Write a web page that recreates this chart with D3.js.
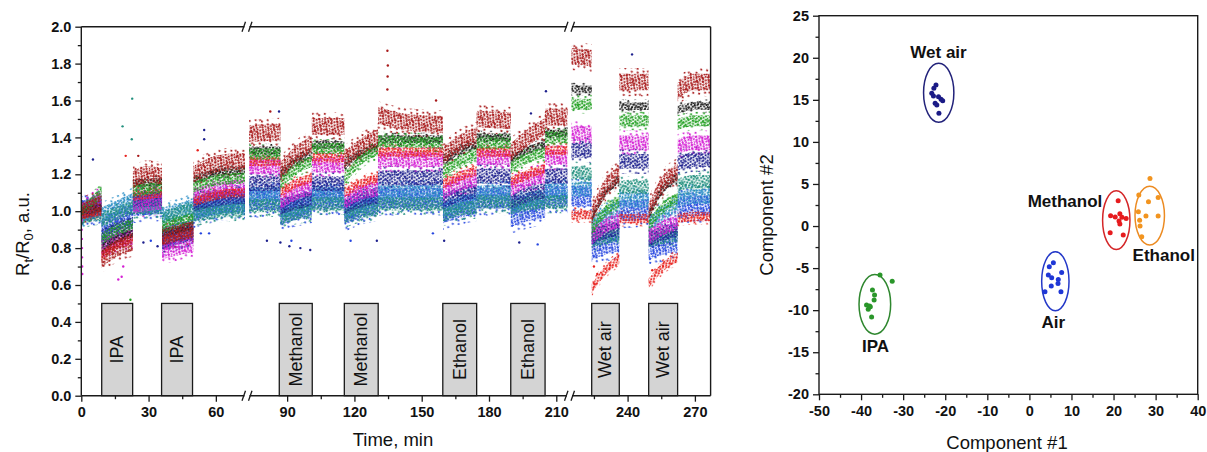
<!DOCTYPE html>
<html>
<head>
<meta charset="utf-8">
<script src="https://cdn.jsdelivr.net/npm/d3@7"></script>
<style>
  body { margin: 0; background: #fff; }
  svg { display: block; font-family: "Liberation Sans", Arial, sans-serif; }
</style>
</head>
<body>
<svg id="chart" width="1207" height="452"></svg>
<script>
// ---------------- Left panel: sensor array response ----------------
// Phase boundaries (min): air / exposure alternation, axis broken at 73 and 215
const phaseBounds = [0, 9, 23, 36, 50, 73, 87, 101, 115.5, 130.5, 159.5, 174.5, 189.7, 205, 215, 224, 236.3, 249.4, 262.3, 277];

// R_t/R_0 level of each sensor in every phase (values evenly spaced across the phase)
const sensorBlue = [[1.00,1.03],[0.90,0.95,0.98],[1.03,1.04],[0.85,0.88,0.90],[1.00,1.04,1.05],[1.06,1.06],[0.98,1.01,1.03],[1.07,1.07],[0.98,1.02,1.04],[1.07,1.07],[0.99,1.02,1.04],[1.07,1.07],[0.97,1.00,1.02],[1.08,1.08],[1.08,1.08],[0.79,0.82,0.84],[1.00,1.01],[0.79,0.82,0.84],[1.02,1.03,1.03]];
const sensorCyan = [[0.98,1.01],[0.98,1.02,1.06],[1.04,1.04],[0.98,1.00,1.03],[1.00,1.02,1.03],[1.09,1.09],[1.00,1.02,1.04],[1.09,1.09],[1.00,1.03,1.05],[1.10,1.10],[1.01,1.04,1.06],[1.10,1.10],[1.03,1.06,1.08],[1.11,1.11],[1.12,1.12],[0.92,0.98,1.02],[1.06,1.06],[0.93,0.99,1.03],[1.06,1.08,1.08]];
const sensorTeal = [[0.97,0.99],[0.95,0.99,1.02],[1.02,1.02],[0.96,0.99,1.01],[0.98,1.00,1.01],[1.03,1.03],[0.96,0.99,1.00],[1.04,1.04],[0.97,1.00,1.01],[1.04,1.04],[0.98,1.01,1.02],[1.05,1.05],[1.02,1.04,1.05],[1.05,1.05],[1.21,1.20],[0.84,0.86,0.87],[1.13,1.13],[0.84,0.86,0.87],[1.14,1.16,1.16]];
const sensorNavy = [[1.00,1.02],[0.86,0.90,0.93],[1.06,1.07],[0.83,0.86,0.88],[1.04,1.07,1.08],[1.15,1.15],[1.02,1.05,1.07],[1.15,1.15],[1.02,1.06,1.08],[1.18,1.18],[1.05,1.09,1.11],[1.19,1.19],[1.05,1.09,1.11],[1.19,1.19],[1.33,1.33],[0.86,0.89,0.91],[1.27,1.27],[0.85,0.88,0.90],[1.26,1.28,1.28]];
const sensorMagenta = [[1.00,1.07],[0.80,0.84,0.86],[1.03,1.05],[0.78,0.80,0.82],[1.08,1.12,1.13],[1.24,1.24],[1.05,1.10,1.13],[1.25,1.25],[1.05,1.10,1.12],[1.28,1.28],[1.10,1.15,1.17],[1.29,1.29],[1.12,1.17,1.19],[1.29,1.29],[1.42,1.42],[0.86,0.92,0.95],[1.37,1.37],[0.86,0.91,0.94],[1.35,1.37,1.37]];
const sensorRed = [[0.98,1.00],[0.76,0.82,0.86],[1.08,1.10],[0.84,0.87,0.89],[1.05,1.09,1.10],[1.27,1.27],[1.10,1.15,1.18],[1.29,1.29],[1.10,1.15,1.18],[1.32,1.32],[1.15,1.19,1.22],[1.32,1.32],[1.16,1.20,1.23],[1.33,1.33],[0.98,0.98],[0.58,0.68,0.74],[0.96,0.96],[0.61,0.70,0.75],[0.96,0.97,0.97]];
const sensorBlack = [[1.00,1.02],[0.80,0.85,0.88],[1.15,1.16],[0.88,0.90,0.92],[1.17,1.21,1.22],[1.33,1.33],[1.20,1.27,1.31],[1.36,1.36],[1.25,1.31,1.35],[1.39,1.39],[1.27,1.33,1.36],[1.40,1.40],[1.28,1.33,1.36],[1.42,1.42],[1.66,1.66],[0.96,1.10,1.17],[1.57,1.57],[0.98,1.12,1.18],[1.55,1.57,1.57]];
const sensorGreen = [[1.00,1.10],[0.85,0.90,0.93],[1.11,1.13],[0.91,0.94,0.96],[1.13,1.17,1.18],[1.31,1.31],[1.15,1.23,1.27],[1.34,1.34],[1.17,1.28,1.33],[1.38,1.37],[1.21,1.27,1.31],[1.37,1.37],[1.24,1.29,1.32],[1.40,1.40],[1.58,1.58],[0.90,1.00,1.05],[1.49,1.49],[0.92,1.02,1.07],[1.47,1.49,1.49]];
const sensorDarkRed = [[1.00,1.04],[0.74,0.80,0.83],[1.17,1.20,1.19],[0.86,0.88,0.90],[1.20,1.26,1.27],[1.42,1.43],[1.22,1.31,1.36],[1.46,1.46],[1.28,1.35,1.40],[1.52,1.48,1.47],[1.30,1.37,1.41],[1.50,1.49],[1.32,1.40,1.46],[1.51,1.51],[1.84,1.83],[0.98,1.13,1.20],[1.70,1.70],[1.00,1.15,1.21],[1.65,1.70,1.70]];

const sensorSeries = [sensorBlue, sensorCyan, sensorTeal, sensorNavy, sensorMagenta, sensorRed, sensorBlack, sensorGreen, sensorDarkRed];
const sensorColors = ["#2747e0", "#2e90c8", "#22907e", "#1e218e", "#d420d4", "#e8231f", "#1c1c1c", "#22a022", "#a8191a"];
const sensorSpread = [0.055, 0.04, 0.036, 0.04, 0.04, 0.025, 0.021, 0.03, 0.045];

// Stray readings away from the main bands: time, value, sensor index
const strayTime  = [0.15,0.2,0.25,0.3,0.35,0.4,0.45,5.2,16.5,18.0,18.7,18.4,22.5,22.7,19.8,25.4,21.9,27.7,31.0,34.0,51.9,54.8,54.8,53.3,57.0,81.0,82.5,86.4,87.0,91.0,91.9,95.9,100.3,118.3,130.0,134.7,134.9,134.8,134.7,155.0,156.4,160.0,193.5,198.7,201.7,205.4,242.0,225.0,226.5,251.0];
const strayValue = [0.95,0.90,0.85,0.80,0.75,0.70,0.66,1.28,0.63,0.645,0.70,1.46,1.39,1.61,1.30,1.30,0.52,0.83,0.84,0.81,1.33,1.44,1.39,0.88,0.88,0.84,1.54,1.54,0.83,0.81,0.84,0.80,0.79,0.84,0.84,1.87,1.79,1.73,1.66,0.88,1.60,0.84,0.83,1.53,0.82,1.65,1.85,0.70,0.66,0.68];
const straySensor = [4,4,4,4,4,4,4,3,4,4,4,2,2,2,5,8,7,3,0,3,5,3,3,0,0,3,8,3,3,3,0,3,3,0,3,8,8,8,8,0,8,3,3,3,0,3,3,5,5,5];

// Gas exposure windows
const exposureLabels = ["IPA", "IPA", "Methanol", "Methanol", "Ethanol", "Ethanol", "Wet air", "Wet air"];
const exposureStart  = [9.1, 35.8, 86.5, 115.5, 159.4, 189.7, 224.0, 249.4];
const exposureEnd    = [22.9, 49.6, 101.2, 130.6, 174.5, 205.0, 236.3, 262.3];
const exposureHeight = 0.5;

// Axis ticks
const timeMajor = [0, 30, 60, 90, 120, 150, 180, 210, 240, 270];
const timeMinor = [15, 45, 105, 135, 165, 195, 225, 255];
const ratioMajor = [0, 0.2, 0.4, 0.6, 0.8, 1.0, 1.2, 1.4, 1.6, 1.8, 2.0];
const ratioMinor = [0.1, 0.3, 0.5, 0.7, 0.9, 1.1, 1.3, 1.5, 1.7, 1.9];
const timeBreaks = [73, 215];

// ---------------- Right panel: PCA scores ----------------
const wetAirPC1 = [-22.2, -22.7, -23.2, -22.8, -21.6, -21.0, -20.6, -22.4, -22.0, -21.5];
const wetAirPC2 = [16.76, 16.37, 15.77, 15.45, 15.37, 15.06, 14.90, 14.58, 14.38, 13.40];
const methanolPC1 = [21.1, 19.3, 20.4, 21.5, 22.0, 23.0, 21.3, 21.5, 19.2, 22.3];
const methanolPC2 = [3.0, 1.22, 1.06, 1.46, 1.03, 0.91, 0.59, 0.23, -0.8, -1.08];
const ethanolPC1 = [28.66, 26.0, 28.3, 30.6, 25.9, 27.7, 30.6, 26.2, 26.3, 26.7];
const ethanolPC2 = [5.66, 3.68, 2.88, 3.4, 1.7, 1.18, 1.18, 0.7, 0.0, -1.28];
const airPC1 = [5.7, 4.73, 7.67, 4.5, 5.3, 6.87, 6.8, 5.2, 3.7, 7.5];
const airPC2 = [-4.37, -4.84, -5.51, -5.83, -6.15, -6.35, -6.82, -7.14, -7.82, -7.82];
const ipaPC1 = [-35.5, -32.6, -37.3, -36.8, -36.9, -38.7, -37.8, -38.3, -37.5, -38.0];
const ipaPC2 = [-5.83, -6.55, -7.6, -8.2, -8.8, -9.4, -9.6, -9.9, -10.8, -9.5];

const groupNames  = ["Wet air", "Methanol", "Ethanol", "Air", "IPA"];
const groupPC1    = [wetAirPC1, methanolPC1, ethanolPC1, airPC1, ipaPC1];
const groupPC2    = [wetAirPC2, methanolPC2, ethanolPC2, airPC2, ipaPC2];
const groupColors = ["#1b1b86", "#e61b1e", "#f2941f", "#1f37d6", "#2a962a"];
const ringColors  = ["#22227a", "#d42628", "#ec8b22", "#2338c8", "#2f872f"];
// Confidence ellipses (centre and semi-axes, in score units)
const ringCx = [-21.55, 20.65, 28.6, 6.17, -36.73];
const ringCy = [15.84, 0.7, 1.24, -6.57, -9.3];
const ringRx = [3.6, 3.25, 3.5, 3.25, 3.76];
const ringRy = [3.5, 3.48, 3.48, 3.5, 3.55];
// Group name positions (score units, text centre / baseline)
const labelPC1 = [-21.6, 8.46, 31.94, 5.68, -36.57];
const labelPC2 = [20.0, 2.22, -4.13, -12.17, -14.95];

const pc1Major = [-50, -40, -30, -20, -10, 0, 10, 20, 30, 40];
const pc1Minor = [-45, -35, -25, -15, -5, 5, 15, 25, 35];
const pc2Major = [-20, -15, -10, -5, 0, 5, 10, 15, 20, 25];
const pc2Minor = [-17.5, -12.5, -7.5, -2.5, 2.5, 7.5, 12.5, 17.5, 22.5];

// =====================================================================
const svg = d3.select("#chart");
const defs = svg.append("defs");
const FONT = "'Liberation Sans', Arial, sans-serif";

// ---------- left panel geometry ----------
const L = { left: 81.3, right: 710.6, top: 26.7, bottom: 395.7 };
const seg = [
  d3.scaleLinear().domain([0, 73]).range([81.3, 245]),
  d3.scaleLinear().domain([73, 215]).range([249, 567.5]),
  d3.scaleLinear().domain([215, 277]).range([571.5, 710.6])
];
const segOf = t => (t < timeBreaks[0] ? 0 : t < timeBreaks[1] ? 1 : 2);
const xT = t => seg[segOf(t)](t);
const yR = d3.scaleLinear().domain([0, 2]).range([L.bottom, L.top]);

// speckle fills: an irregular scatter of small dots, turned and shifted per sensor;
// the "halo" variant is sparser and fringes each band
const dotLayout = [[0.6,1.1],[3.4,0.4],[6.9,1.3],[10.2,0.8],[12.1,2.6],[1.9,3.5],[5.2,3.0],[8.4,3.7],
  [11.0,5.0],[0.3,6.2],[3.6,5.8],[6.6,6.4],[9.5,7.3],[12.4,8.1],[2.2,8.6],[5.0,9.0],[7.9,9.6],
  [10.8,10.4],[0.9,10.9],[4.1,11.6],[7.2,11.8],[12.6,11.5]];
const haloLayout = [[2.1,1.7],[9.3,2.9],[5.8,7.4],[11.6,9.8],[0.8,10.6],[7.4,11.2]];
function makeSpeckle(prefix, layout, shift) {
  defs.selectAll("pattern." + prefix).data(sensorColors).join("pattern")
    .attr("class", prefix)
    .attr("id", (d, i) => prefix + i)
    .attr("patternUnits", "userSpaceOnUse")
    .attr("width", 13).attr("height", 12.3)
    .attr("patternTransform", (d, i) => `rotate(${(i * 23 + shift * 11) % 90 - 40}) translate(${(i * 4.3 + shift) % 13},${(i * 7.1 + shift * 2) % 12})`)
    .each(function (color) {
      d3.select(this).selectAll("circle").data(layout).join("circle")
        .attr("cx", p => p[0]).attr("cy", p => p[1]).attr("r", 1.1)
        .attr("fill", color);
    });
}
makeSpeckle("speckle", dotLayout, 0);
makeSpeckle("halo", haloLayout, 5);

defs.append("clipPath").attr("id", "leftClip").append("rect")
  .attr("x", L.left).attr("y", L.top)
  .attr("width", L.right - L.left).attr("height", L.bottom - L.top);

const left = svg.append("g");
const dataLayer = left.append("g").attr("clip-path", "url(#leftClip)");
const haloLayer = dataLayer.append("g");
const coreLayer = dataLayer.append("g");

// response bands, one per sensor and phase
sensorSeries.forEach((phases, si) => {
  const spread = sensorSpread[si];
  phases.forEach((vals, pi) => {
    const t0 = phaseBounds[pi], t1 = phaseBounds[pi + 1];
    const sx = seg[segOf((t0 + t1) / 2)];
    const pts = vals.map((v, k) => [t0 + (t1 - t0) * k / (vals.length - 1), v]);
    const band = w => d3.area()
      .x(d => sx(d[0]))
      .y0(d => yR(d[1] - w))
      .y1(d => yR(d[1] + w))
      .curve(d3.curveMonotoneX)(pts);
    haloLayer.append("path").attr("d", band(spread * 1.7)).attr("fill", `url(#halo${si})`);
    coreLayer.append("path").attr("d", band(spread)).attr("fill", `url(#speckle${si})`);
  });
});

// stray readings
dataLayer.append("g").selectAll("circle")
  .data(strayTime.map((t, i) => ({ t, v: strayValue[i], s: straySensor[i] })))
  .join("circle")
  .attr("cx", d => xT(d.t)).attr("cy", d => yR(d.v)).attr("r", 1.2)
  .attr("fill", d => sensorColors[d.s]);

// exposure boxes
const boxes = left.append("g").selectAll("g")
  .data(exposureLabels.map((name, i) => ({ name, a: exposureStart[i], b: exposureEnd[i] })))
  .join("g");
boxes.append("rect")
  .attr("x", d => xT(d.a)).attr("y", yR(exposureHeight))
  .attr("width", d => xT(d.b) - xT(d.a))
  .attr("height", yR(0) - yR(exposureHeight))
  .attr("fill", "#d4d4d4").attr("stroke", "#1a1a1a").attr("stroke-width", 1.3);
boxes.append("text")
  .attr("transform", d => `translate(${(xT(d.a) + xT(d.b)) / 2},${yR(exposureHeight / 2)}) rotate(-90)`)
  .attr("text-anchor", "middle").attr("dominant-baseline", "central")
  .attr("font-family", FONT).attr("font-size", 18).attr("fill", "#111")
  .text(d => d.name);

// frame
const frame = left.append("g").attr("stroke", "#1a1a1a").attr("stroke-width", 1.4).attr("fill", "none");
frame.append("line").attr("x1", L.left).attr("x2", L.right).attr("y1", L.top).attr("y2", L.top);
frame.append("line").attr("x1", L.left).attr("x2", L.right).attr("y1", L.bottom).attr("y2", L.bottom);
frame.append("line").attr("x1", L.left).attr("x2", L.left).attr("y1", L.top).attr("y2", L.bottom);
frame.append("line").attr("x1", L.right).attr("x2", L.right).attr("y1", L.top).attr("y2", L.bottom);

// break marks on the time axis
const breakX = [(seg[0].range()[1] + seg[1].range()[0]) / 2, (seg[1].range()[1] + seg[2].range()[0]) / 2];
breakX.forEach(bx => {
  [L.top, L.bottom].forEach(by => {
    left.append("rect").attr("x", bx - 2.5).attr("y", by - 2).attr("width", 5).attr("height", 4).attr("fill", "#fff");
    left.append("line").attr("x1", bx - 5).attr("y1", by + 5).attr("x2", bx - 1.5).attr("y2", by - 5)
      .attr("stroke", "#1a1a1a").attr("stroke-width", 1.3);
    left.append("line").attr("x1", bx + 1.5).attr("y1", by + 5).attr("x2", bx + 5).attr("y2", by - 5)
      .attr("stroke", "#1a1a1a").attr("stroke-width", 1.3);
  });
});

function styleAxis(g) {
  g.select(".domain").remove();
  g.selectAll("line").attr("stroke", "#1a1a1a").attr("stroke-width", 1.3);
  g.selectAll("text").attr("font-family", FONT).attr("font-size", 14.5)
    .attr("font-weight", "bold").attr("fill", "#111");
}

// time axis, drawn segment by segment
seg.forEach((sc, i) => {
  const [d0, d1] = sc.domain();
  const inSeg = v => (i === 2 ? v >= d0 && v <= d1 : v >= d0 && v < d1);
  left.append("g").attr("transform", `translate(0,${L.bottom})`)
    .call(d3.axisBottom(sc).tickValues(timeMajor.filter(inSeg)).tickSize(6).tickPadding(5).tickFormat(d => String(d)))
    .call(styleAxis);
  left.append("g").attr("transform", `translate(0,${L.bottom})`)
    .call(d3.axisBottom(sc).tickValues(timeMinor.filter(inSeg)).tickSize(3.5).tickFormat(""))
    .call(styleAxis);
});
left.append("g").attr("transform", `translate(${L.left},0)`)
  .call(d3.axisLeft(yR).tickValues(ratioMajor).tickSize(6).tickPadding(4).tickFormat(d3.format(".1f")))
  .call(styleAxis);
left.append("g").attr("transform", `translate(${L.left},0)`)
  .call(d3.axisLeft(yR).tickValues(ratioMinor).tickSize(3.5).tickFormat(""))
  .call(styleAxis);

// axis titles
left.append("text").attr("x", 393).attr("y", 446)
  .attr("text-anchor", "middle").attr("font-family", FONT).attr("font-size", 18.5).attr("fill", "#111")
  .text("Time, min");
const yTitle = left.append("text")
  .attr("transform", "translate(29,234) rotate(-90)")
  .attr("text-anchor", "middle").attr("font-family", FONT).attr("font-size", 18.5).attr("fill", "#111");
yTitle.append("tspan").text("R");
yTitle.append("tspan").attr("font-size", 13).attr("dy", 4).text("t");
yTitle.append("tspan").attr("dy", -4).text("/R");
yTitle.append("tspan").attr("font-size", 13).attr("dy", 4).text("0");
yTitle.append("tspan").attr("dy", -4).text(", a.u.");

// ---------- right panel ----------
const R = { left: 819, right: 1197.7, top: 15.7, bottom: 394.3 };
const xP = d3.scaleLinear().domain([-50, 40]).range([R.left, R.right]);
const yP = d3.scaleLinear().domain([-20, 25]).range([R.bottom, R.top]);
const right = svg.append("g");

right.append("rect").attr("x", R.left).attr("y", R.top)
  .attr("width", R.right - R.left).attr("height", R.bottom - R.top)
  .attr("fill", "none").attr("stroke", "#1a1a1a").attr("stroke-width", 1.4);

right.append("g").attr("transform", `translate(0,${R.bottom})`)
  .call(d3.axisBottom(xP).tickValues(pc1Major).tickSize(6).tickPadding(5).tickFormat(d => String(d)))
  .call(styleAxis);
right.append("g").attr("transform", `translate(0,${R.bottom})`)
  .call(d3.axisBottom(xP).tickValues(pc1Minor).tickSize(3.5).tickFormat(""))
  .call(styleAxis);
right.append("g").attr("transform", `translate(${R.left},0)`)
  .call(d3.axisLeft(yP).tickValues(pc2Major).tickSize(6).tickPadding(4).tickFormat(d => String(d)))
  .call(styleAxis);
right.append("g").attr("transform", `translate(${R.left},0)`)
  .call(d3.axisLeft(yP).tickValues(pc2Minor).tickSize(3.5).tickFormat(""))
  .call(styleAxis);

// ellipses
right.append("g").selectAll("ellipse")
  .data(groupNames.map((n, i) => i))
  .join("ellipse")
  .attr("cx", i => xP(ringCx[i])).attr("cy", i => yP(ringCy[i]))
  .attr("rx", i => xP(ringCx[i] + ringRx[i]) - xP(ringCx[i]))
  .attr("ry", i => yP(ringCy[i]) - yP(ringCy[i] + ringRy[i]))
  .attr("fill", "none").attr("stroke", i => ringColors[i]).attr("stroke-width", 1.5);

// score points
groupNames.forEach((name, gi) => {
  right.append("g").selectAll("circle")
    .data(groupPC1[gi].map((v, k) => [v, groupPC2[gi][k]]))
    .join("circle")
    .attr("cx", d => xP(d[0])).attr("cy", d => yP(d[1])).attr("r", 2.5)
    .attr("fill", groupColors[gi]);
});

// group names
right.append("g").selectAll("text")
  .data(groupNames.map((n, i) => i))
  .join("text")
  .attr("x", i => xP(labelPC1[i])).attr("y", i => yP(labelPC2[i]))
  .attr("text-anchor", "middle").attr("font-family", FONT).attr("font-size", 17)
  .attr("font-weight", "bold").attr("fill", "#111")
  .text(i => groupNames[i]);

// axis titles
right.append("text").attr("x", 1007).attr("y", 449)
  .attr("text-anchor", "middle").attr("font-family", FONT).attr("font-size", 18.5).attr("fill", "#111")
  .text("Component #1");
right.append("text").attr("transform", "translate(773,215) rotate(-90)")
  .attr("text-anchor", "middle").attr("font-family", FONT).attr("font-size", 18.5).attr("fill", "#111")
  .text("Component #2");
</script>
</body>
</html>
